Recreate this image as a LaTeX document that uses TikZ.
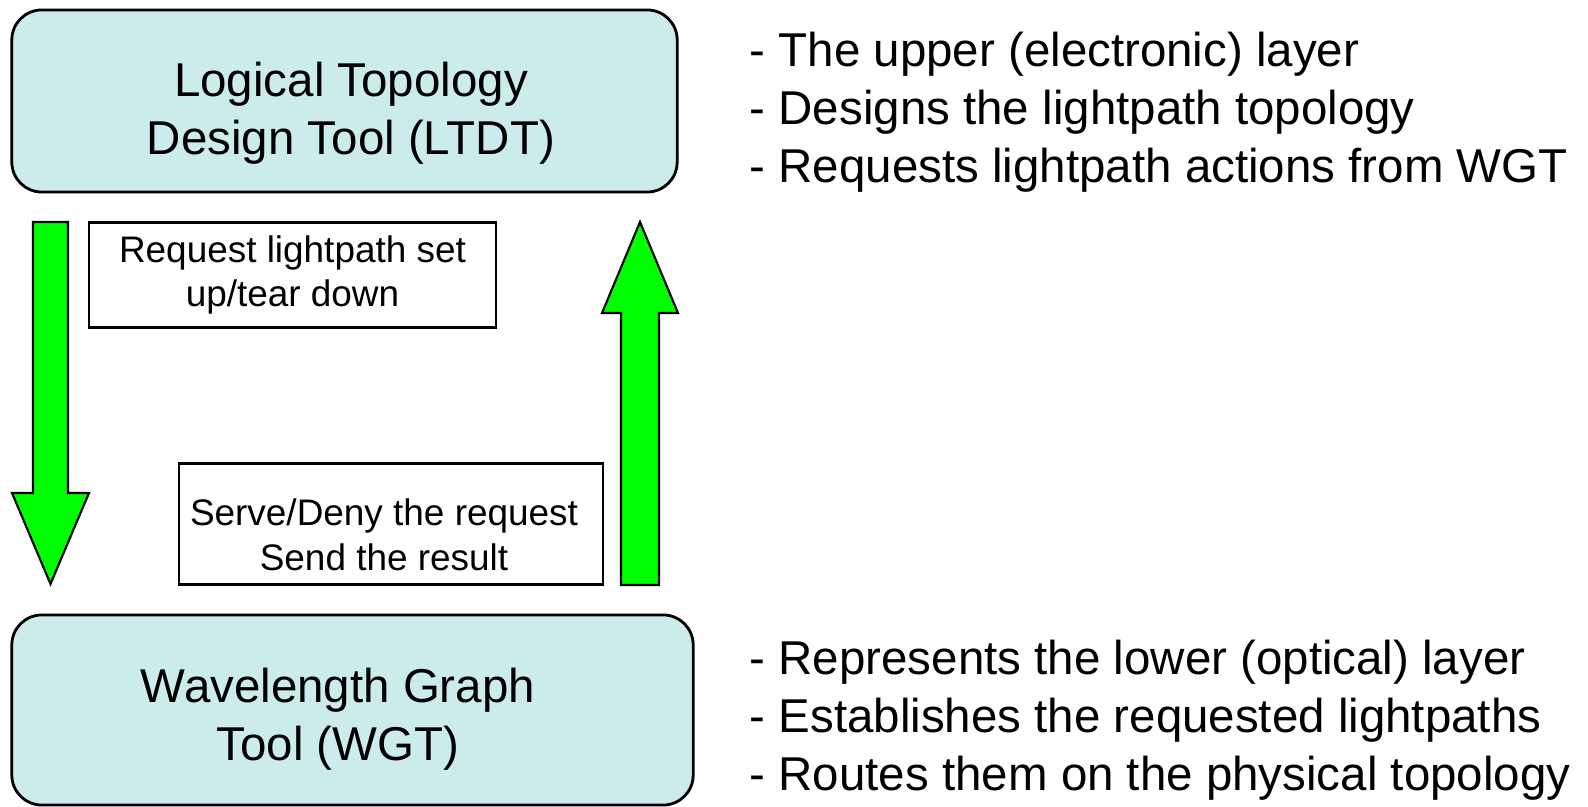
\documentclass[tikz,border=0pt]{standalone}
\usepackage{fontspec}
\setmainfont{Liberation Sans}
\definecolor{toolfill}{RGB}{204,236,236}
\definecolor{arrowgreen}{RGB}{0,255,0}

\begin{document}
\begin{tikzpicture}[x=.01cm,y=-.01cm,
  toolbox/.style={draw,line width=.8pt,fill=toolfill,rounded corners=.3cm},
  bigtext/.style={align=center,inner sep=0pt,font=\fontsize{13.5}{16.5}\selectfont},
  msgbox/.style={draw,line width=.7pt,fill=white,align=center,inner sep=0pt,font=\fontsize{10.5}{12.7}\selectfont},
  notes/.style={anchor=west,align=left,inner sep=0pt,font=\fontsize{13.5}{16.5}\selectfont},
  blockarrow/.style={draw,line width=.6pt,fill=arrowgreen}]
\path[use as bounding box] (0,0) rectangle (1588,807);

% the two tools
\node[toolbox,minimum width=6.65cm,minimum height=1.82cm] (ltdt) at (344.5,101) {};
\node[bigtext] (ltdttxt) at (351,113) {Logical Topology\\Design Tool (LTDT)};
\node[toolbox,minimum width=6.81cm,minimum height=1.90cm] (wgt) at (352.5,710) {};
\node[bigtext] (wgttxt) at (338,719) {Wavelength Graph\\Tool (WGT)};

% block arrows
\draw[blockarrow] (33,222)--(68,222)--(68,493)--(89,493)--(50.5,584)--(12,493)--(33,493)--cycle;
\draw[blockarrow] (621,585)--(659,585)--(659,313)--(678,313)--(640,222)--(602,313)--(621,313)--cycle;

% messages
\node[msgbox,minimum width=4.07cm,minimum height=1.05cm] (req) at (292.5,275) {Request lightpath set\\up/tear down};
\node[msgbox,minimum width=4.24cm,minimum height=1.21cm] (serve) at (391,524) {};
\node[msgbox,draw=none,fill=none] (servetxt) at (384,535) {Serve/Deny the request\\Send the result};

% notes on the right
\node[notes] (ltdtnotes) at (749,112) {- The upper (electronic) layer\\- Designs the lightpath topology\\- Requests lightpath actions from WGT};
\node[notes] (wgtnotes) at (749,720) {- Represents the lower (optical) layer\\- Establishes the requested lightpaths\\- Routes them on the physical topology};
\end{tikzpicture}
\end{document}
